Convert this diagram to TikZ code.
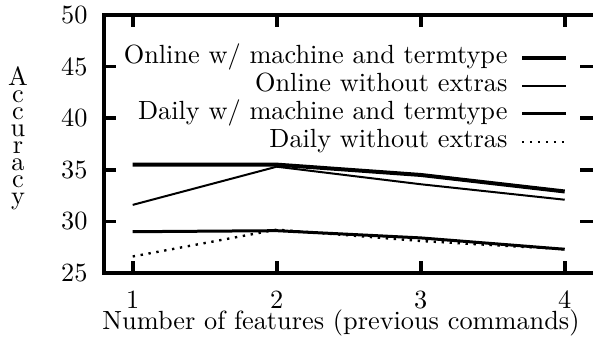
\documentclass[tikz,border=0pt]{standalone}
\begin{document}
\begin{tikzpicture}[x=0.3802pt,y=-0.3802pt,
  every node/.style={inner sep=0pt,font=\fontsize{10}{12}\selectfont},
  frame/.style={line width=1.52pt},
  tickmark/.style={line width=1.4pt},
  lthick/.style={line width=1.52pt},
  lmedium/.style={line width=1.14pt},
  lthin/.style={line width=0.76pt},
  ldotted/.style={line width=0.9pt,dash pattern=on 0.9pt off 2.14pt},
]
\useasboundingbox (0,0) rectangle (593,343);
\clip (0,0) rectangle (593,343);

% plot frame
\draw[frame] (104,15) rectangle (594.5,273);

% x ticks (bottom and top)
\foreach \tx in {132.7,276.7,420.7,564.7}{
  \draw[tickmark] (\tx,273) -- ++(0,-12);
  \draw[tickmark] (\tx,15) -- ++(0,12);
}
% y ticks (left and right)
\foreach \ty in {66.6,118.2,169.8,221.4}{
  \draw[tickmark] (104,\ty) -- ++(12,0);
  \draw[tickmark] (593,\ty) -- ++(-13,0);
}

% y tick labels
\node[anchor=base east] (y50) at (88,23.5) {50};
\node[anchor=base east] (y45) at (88,75.1) {45};
\node[anchor=base east] (y40) at (88,126.7) {40};
\node[anchor=base east] (y35) at (88,178.3) {35};
\node[anchor=base east] (y30) at (88,229.9) {30};
\node[anchor=base east] (y25) at (88,281.5) {25};

% x tick labels
\node[anchor=base] (x1) at (132.7,309) {1};
\node[anchor=base] (x2) at (276.7,309) {2};
\node[anchor=base] (x3) at (420.7,309) {3};
\node[anchor=base] (x4) at (564.7,309) {4};

% axis titles
\node[anchor=base] (xtitle) at (341,330) {Number of features (previous commands)};
\node[anchor=north,align=center,font=\fontsize{10}{6.46}\selectfont]
  (ytitle) at (18,66) {A\\c\\c\\u\\r\\a\\c\\y};

% data series
\begin{scope}[shift={(-11.3,531)},x=54.75pt,y=3.9237pt]
  \draw[lthick]  plot coordinates {(1,35.5) (2,35.5) (3,34.5) (4,32.9)};
  \draw[lthin]   plot coordinates {(1,31.6) (2,35.3) (3,33.6) (4,32.1)};
  \draw[lmedium] plot coordinates {(1,29.0) (2,29.1) (3,28.4) (4,27.3)};
  \draw[ldotted] plot coordinates {(1,26.6) (2,29.2) (3,28.1) (4,27.3)};
\end{scope}

% key
\node[anchor=base east] (k1) at (508,64)  {Online w/ machine and termtype};
\node[anchor=base east] (k2) at (508,92)  {Online without extras};
\node[anchor=base east] (k3) at (508,120) {Daily w/ machine and termtype};
\node[anchor=base east] (k4) at (508,148) {Daily without extras};
\coordinate (k1a) at (522,58);  \coordinate (k1b) at (566,58);
\coordinate (k2a) at (522,86);  \coordinate (k2b) at (566,86);
\coordinate (k3a) at (522,114); \coordinate (k3b) at (566,114);
\coordinate (k4a) at (522,142); \coordinate (k4b) at (566,142);
\draw[lthick]  (k1a) -- (k1b);
\draw[lthin]   (k2a) -- (k2b);
\draw[lmedium] (k3a) -- (k3b);
\draw[ldotted] (k4a) -- (k4b);
\end{tikzpicture}
\end{document}
